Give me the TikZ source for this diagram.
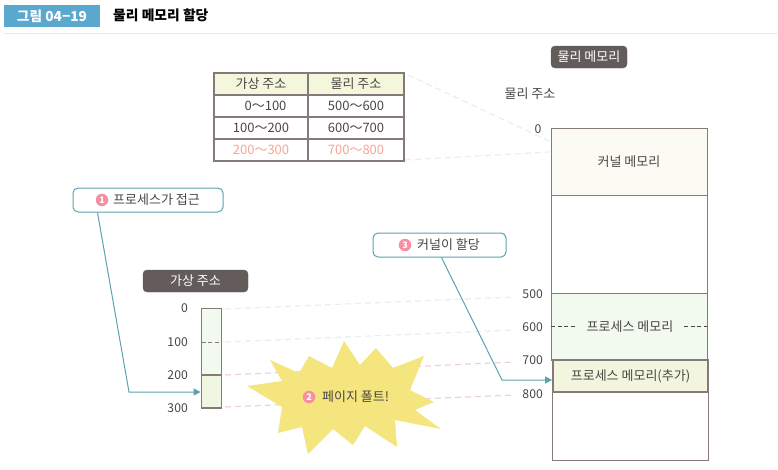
\documentclass[tikz,border=0pt]{standalone}
\usepackage{fontspec}
\setmainfont{Noto Sans CJK KR}
\usetikzlibrary{arrows.meta}
\definecolor{hdrblue}{HTML}{5BA8CF}
\definecolor{rulec}{HTML}{DCEEF4}
\definecolor{edge}{HTML}{85797A}
\definecolor{badge}{HTML}{635C5A}
\definecolor{teal}{HTML}{5AA3AE}
\definecolor{txt}{HTML}{4A4544}
\definecolor{salmon}{HTML}{F4A595}
\definecolor{pinkc}{HTML}{F78FA3}
\definecolor{faintb}{HTML}{E4EEF3}
\definecolor{faintp}{HTML}{E9CFE8}
\definecolor{starc}{HTML}{F4E57E}
\definecolor{tblhead}{HTML}{F3F7DC}
\definecolor{kernelc}{HTML}{FBFAF3}
\definecolor{procc}{HTML}{F2FAEF}
\definecolor{addc}{HTML}{F2F6DF}
\definecolor{vlight}{HTML}{F2FAF0}
\definecolor{vdark}{HTML}{EFF7E3}
\tikzset{
  x=1pt,y=-1pt,
  basefont/.style={font=\fontsize{13}{14}\selectfont},
  numfont/.style={font=\fontsize{12.2}{14}\selectfont},
  cell/.style={basefont,draw=edge,line width=1.1pt,minimum height=22pt,inner sep=0pt,text=txt},
  badgebox/.style={basefont,fill=badge,draw=badge,rounded corners=4pt,text=white,inner sep=0pt},
  lbl/.style={basefont,text=txt,inner sep=0pt},
  numlbl/.style={numfont,text=txt,inner sep=0pt},
  callout/.style={draw=teal,line width=1pt,rounded corners=5pt,fill=white,inner sep=0pt,minimum height=24pt},
  numdot/.style={circle,fill=pinkc,text=white,inner sep=0pt,minimum size=12.5pt,font=\fontsize{9}{9}\selectfont\bfseries},
  membox/.style={basefont,draw=edge,line width=1pt,inner sep=0pt,text=txt},
  faint/.style={dash pattern=on 6pt off 4pt,line width=1.2pt},
  tealarrow/.style={draw=teal,line width=1pt,-{Triangle[length=7pt,width=7pt]}},
}
\begin{document}
\begin{tikzpicture}
\useasboundingbox (0,0) rectangle (778,469);
% header
\node[fill=hdrblue,minimum width=96pt,minimum height=22pt,inner sep=0pt,text=white,font=\fontsize{13.7}{14}\selectfont\bfseries] (hdr) at (52,16) {그림 04−19};
\node[anchor=west,inner sep=0pt,text=black,font=\fontsize{13.8}{14}\selectfont\bfseries] (title) at (113,15) {물리 메모리 할당};
\draw[rulec,line width=1pt] (4,33.5) -- (778,33.5);
% table faint connectors
\coordinate (t1) at (408,75);
\coordinate (t2) at (405,160);
\coordinate (k1) at (549,141);
\coordinate (k2) at (549,152);
\draw[faint,draw=faintb] (t1) -- (k1);
\draw[faint,draw=faintb] (t2) -- (k2);
% table
\node[cell,fill=tblhead,minimum width=94pt] (h1) at (261,84) {가상 주소};
\node[cell,fill=tblhead,minimum width=96pt] (h2) at (356,84) {물리 주소};
\node[cell,minimum width=94pt] (a1) at (261,106) {\hspace*{9pt}0～100};
\node[cell,minimum width=96pt] (b1) at (356,106) {500～600};
\node[cell,minimum width=94pt] (a2) at (261,128) {100～200};
\node[cell,minimum width=96pt] (b2) at (356,128) {600～700};
\node[cell,minimum width=94pt,text=salmon] (a3) at (261,150) {200～300};
\node[cell,minimum width=96pt,text=salmon] (b3) at (356,150) {700～800};
% physical memory
\node[badgebox,minimum width=76pt,minimum height=22pt] (pm) at (589,57) {물리 메모리};
\node[lbl] (pa) at (530,94) {물리 주소};
\node[numlbl] (p0) at (538,129) {0};
\node[membox,fill=white,minimum width=156pt,minimum height=98pt] (f1) at (629,244) {};
\node[membox,fill=white,minimum width=156pt,minimum height=68pt] (f2) at (630.5,426) {};
\node[membox,fill=kernelc,minimum width=156pt,minimum height=67pt] (kern) at (629,161.5) {커널 메모리};
\node[membox,fill=procc,minimum width=156pt,minimum height=67pt] (proc) at (629,326.5) {};
\coordinate (d1) at (551,326.5);
\coordinate (d2) at (575,326.5);
\coordinate (d3) at (684,326.5);
\coordinate (d4) at (707,326.5);
\draw[txt,line width=.8pt,dash pattern=on 4pt off 2.5pt] (d1) -- (d2);
\draw[txt,line width=.8pt,dash pattern=on 4pt off 2.5pt] (d3) -- (d4);
\node[lbl] (ptxt) at (630,326.5) {프로세스 메모리};
\node[membox,fill=addc,line width=1.7pt,minimum width=155pt,minimum height=32pt] (padd) at (630.5,376) {프로세스 메모리(추가)};
\node[numlbl,anchor=east] (p500) at (543,294) {500};
\node[numlbl,anchor=east] (p600) at (543,327) {600};
\node[numlbl,anchor=east] (p700) at (543,360) {700};
\node[numlbl,anchor=east] (p800) at (543,394) {800};
% virtual address
\node[badgebox,minimum width=105pt,minimum height=22pt] (va) at (195.5,281) {가상 주소};
\node[membox,fill=vlight,minimum width=20pt,minimum height=67pt] (vu) at (211.5,341.5) {};
\coordinate (vl) at (201.5,342);
\coordinate (vr) at (221.5,342);
\draw[edge,line width=.9pt,dash pattern=on 4pt off 2.5pt] (vl) -- (vr);
\node[membox,fill=vdark,line width=1.7pt,minimum width=20pt,minimum height=33pt] (vb) at (211.5,391.5) {};
\node[numlbl,anchor=east] (v0) at (188,308) {0};
\node[numlbl,anchor=east] (v1) at (188,342) {100};
\node[numlbl,anchor=east] (v2) at (188,375) {200};
\node[numlbl,anchor=east] (v3) at (188,408) {300};
% faint map lines
\coordinate (m0) at (225,309);
\coordinate (m1) at (225,342);
\coordinate (m2) at (225,375);
\coordinate (m3) at (225,407);
\coordinate (e0) at (514,297);
\coordinate (e1) at (514,330);
\coordinate (e2) at (514,362);
\coordinate (e3) at (514,395);
\draw[faint,draw=faintb] (m0) -- (e0);
\draw[faint,draw=faintb] (m1) -- (e1);
\draw[faint,draw=faintp] (m2) -- (e2);
\draw[faint,draw=faintp] (m3) -- (e3);
% star
\fill[starc] (247,386) -- (282,381) -- (270,360) -- (299,373) -- (309,356) -- (332,368) -- (344,341) -- (360,365) -- (376,348) -- (393,368) -- (424,356) -- (410,390) -- (434,402) -- (415,410) -- (441,429) -- (395,420) -- (397,447) -- (365,426) -- (353,445) -- (333,429) -- (308,454) -- (302,427) -- (278,433) -- (282,407) -- cycle;
\node[numdot] (n2) at (309,397) {2};
\node[lbl,anchor=west] (star) at (322,397) {페이지 폴트!};
% callouts
\node[callout,minimum width=150pt] (c1) at (148,200) {};
\node[numdot] (n1) at (102,200) {1};
\node[lbl,anchor=west] (c1t) at (113,200) {프로세스가 접근};
\node[callout,minimum width=133pt] (c3) at (439.5,245) {};
\node[numdot] (n3) at (405,245) {3};
\node[lbl,anchor=west] (c3t) at (417,245) {커널이 할당};
% arrows
\coordinate (j1) at (129,392);
\coordinate (j3) at (502,380);
\draw[tealarrow] (c1.south west) ++(25,0) -- (j1) -- (j1 -| vb.west);
\draw[tealarrow] (c3.south west) ++(69,0) -- (j3) -- (j3 -| padd.west);
\end{tikzpicture}
\end{document}
